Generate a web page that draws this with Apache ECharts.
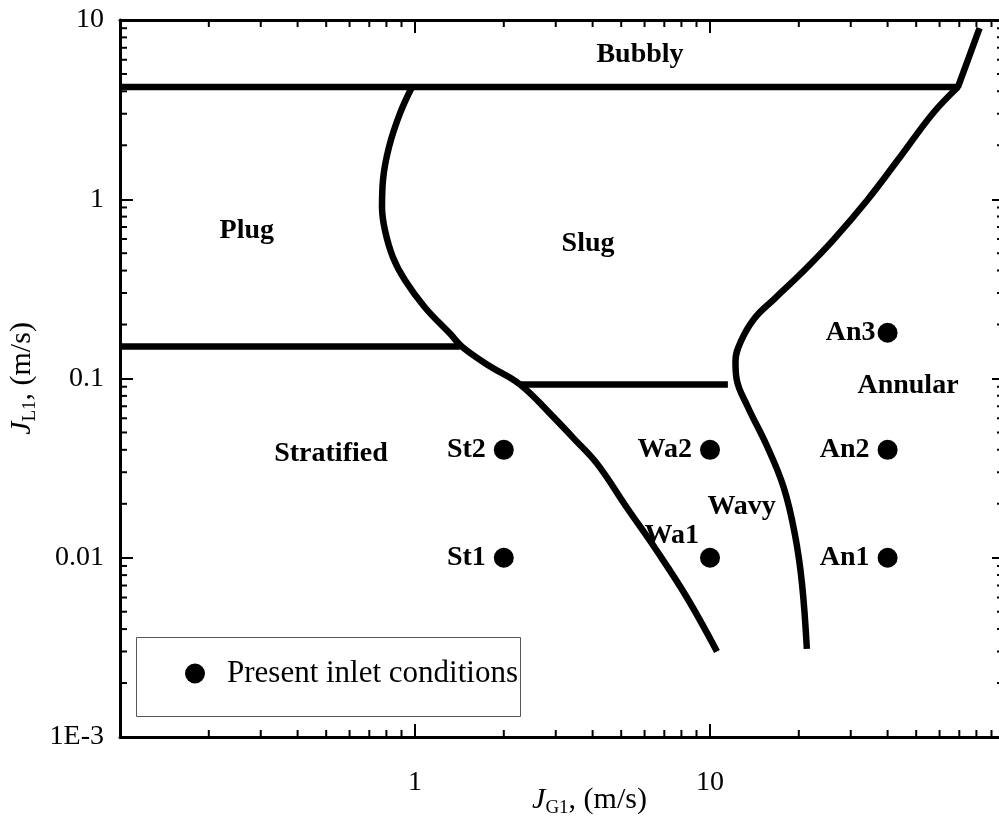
<!DOCTYPE html>
<html>
<head>
<meta charset="utf-8">
<script src="https://cdn.jsdelivr.net/npm/echarts@6/dist/echarts.min.js"></script>
<style>
  html, body { margin: 0; padding: 0; background: #fff; }
  #chart { width: 999px; height: 825px; }
</style>
</head>
<body>
<div id="chart"></div>
<script>
// tick labels
const xTickExp = [-1, 0, 1, 2]
const xTickLabels = ['', '1', '10', '']
const yTickExp = [-3, -2, -1, 0, 1]
const yTickLabels = ['1E-3', '0.01', '0.1', '1', '10']
const xMinorTicks = [0.2, 0.3, 0.4, 0.5, 0.6, 0.7, 0.8, 0.9, 2, 3, 4, 5, 6, 7, 8, 9, 20, 30, 40, 50, 60, 70, 80, 90]
const yMinorTicks = [0.002, 0.003, 0.004, 0.005, 0.006, 0.007, 0.008, 0.009, 0.02, 0.03, 0.04, 0.05, 0.06, 0.07, 0.08, 0.09,
  0.2, 0.3, 0.4, 0.5, 0.6, 0.7, 0.8, 0.9, 2, 3, 4, 5, 6, 7, 8, 9]

// flow pattern boundaries
const bubblyLine = [[0.1, 4.23], [69.3, 4.23], [82, 9.0]]
const plugStratLine = [[0.1, 0.151], [1.42, 0.151]]
const slugWavyLine = [[2.27, 0.0926], [11.5, 0.0926]]
const slugCurve = [
  [0.977, 4.23], [0.89, 3.02], [0.816, 1.95], [0.779, 1.28], [0.773, 0.902], [0.791, 0.671],
  [0.842, 0.474], [0.925, 0.353], [1.081, 0.249], [1.314, 0.178], [1.454, 0.149], [1.795, 0.117],
  [2.27, 0.0926], [2.87, 0.0637], [3.43, 0.0468], [4.14, 0.0335], [5.23, 0.019], [6.61, 0.0109],
  [8.36, 0.00598], [10.56, 0.0030]
]
const annularCurve = [
  [69.3, 4.23], [57.0, 3.02], [44.1, 1.72], [34.1, 0.987], [26.1, 0.59], [20.5, 0.39],
  [16.6, 0.28], [14.1, 0.215], [12.7, 0.16], [12.2, 0.125], [12.3, 0.1], [13.4, 0.07],
  [15.6, 0.042], [17.8, 0.0245], [19.4, 0.0135], [20.5, 0.0072], [21.3, 0.0031]
]

// inlet conditions
const pointNames = ['St1', 'St2', 'Wa1', 'Wa2', 'An1', 'An2', 'An3']
const pointX = [2, 2, 10, 10, 40, 40, 40]
const pointY = [0.01, 0.04, 0.01, 0.04, 0.01, 0.04, 0.18]

// region names
const regionNames = ['Bubbly', 'Plug', 'Slug', 'Stratified', 'Wavy', 'Annular']
const regionX = [5.79, 0.269, 3.86, 0.519, 12.8, 46.9]
const regionY = [6.37, 0.671, 0.568, 0.0381, 0.0193, 0.0914]

const serif = '"Liberation Serif", "DejaVu Serif", serif'
const tickStyle = { stroke: '#000', lineWidth: 2 }

const lineSeries = (data, smooth) => ({
  type: 'line',
  data,
  smooth: smooth ? 0.4 : false,
  showSymbol: false,
  symbol: 'none',
  lineStyle: { color: '#000', width: 6.5 },
  z: 3,
  silent: true
})

const baseAxis = {
  type: 'log',
  logBase: 10,
  axisLine: { show: true, lineStyle: { color: '#000', width: 3 } },
  axisTick: { show: true, inside: true, length: 13, lineStyle: { color: '#000', width: 2 } },
  splitLine: { show: false },
  minorTick: { show: false },
  nameMoveOverlap: false
}

const labelFont = {
  fontFamily: serif,
  fontWeight: 'bold',
  fontSize: 28,
  color: '#000',
  opacity: 1
}

const titleRich = {
  j: { fontFamily: serif, fontStyle: 'italic', fontSize: 30, color: '#000' },
  sub: { fontFamily: serif, fontSize: 19, color: '#000', padding: [16, 0, 0, 0] },
  n: { fontFamily: serif, fontSize: 30, color: '#000' }
}

const chart = echarts.init(document.getElementById('chart'))

chart.setOption({
  animation: false,
  backgroundColor: '#fff',
  grid: { left: 120, right: -6, top: 20, bottom: 88, outerBoundsMode: 'none', containLabel: false },
  xAxis: [
    {
      ...baseAxis,
      position: 'bottom',
      min: 0.1,
      max: 100,
      axisLabel: {
        margin: 32,
        fontFamily: serif,
        fontSize: 28,
        color: '#000',
        formatter: (v) => xTickLabels[xTickExp.indexOf(Math.round(Math.log10(v)))] || ''
      },
      name: '{j|J}{sub|G1}{n|, (m/s)}',
      nameLocation: 'middle',
      nameGap: 46,
      nameTextStyle: { padding: [0, 0, 0, 54], rich: titleRich }
    },
    {
      ...baseAxis,
      position: 'top',
      min: 0.1,
      max: 100,
      axisLabel: { show: false }
    }
  ],
  yAxis: [
    {
      ...baseAxis,
      position: 'left',
      min: 0.001,
      max: 10,
      axisLabel: {
        margin: 16,
        fontFamily: serif,
        fontSize: 28,
        color: '#000',
        formatter: (v) => yTickLabels[yTickExp.indexOf(Math.round(Math.log10(v)))] || ''
      },
      name: '{j|J}{sub|L1}{n|, (m/s)}',
      nameLocation: 'middle',
      nameRotate: 90,
      nameGap: 80,
      nameTextStyle: { rich: titleRich }
    },
    {
      ...baseAxis,
      position: 'right',
      min: 0.001,
      max: 10,
      axisLabel: { show: false }
    }
  ],
  legend: {
    data: ['Present inlet conditions'],
    left: 180,
    top: 653,
    icon: 'circle',
    itemWidth: 20,
    itemHeight: 20,
    selectedMode: false,
    itemStyle: { color: '#000', opacity: 1 },
    textStyle: { fontFamily: serif, fontSize: 31, color: '#000', lineHeight: 30, padding: [0, 0, 0, 17] }
  },
  graphic: [
    {
      type: 'rect',
      left: 134,
      top: 635,
      shape: { width: 384, height: 79 },
      style: { fill: 'none', stroke: '#555', lineWidth: 1 },
      z: 1
    }
  ],
  series: [
    lineSeries(bubblyLine, false),
    lineSeries(plugStratLine, false),
    lineSeries(slugWavyLine, false),
    lineSeries(slugCurve, true),
    lineSeries(annularCurve, true),
    {
      name: 'Present inlet conditions',
      type: 'scatter',
      symbol: 'circle',
      symbolSize: 20,
      itemStyle: { color: '#000', opacity: 1 },
      data: pointNames.map((n, i) => {
        const item = { name: n, value: [pointX[i], pointY[i]] }
        if (n === 'Wa1') item.label = { offset: [7, -22] }
        if (n === 'An3') item.label = { distance: 2 }
        return item
      }),
      label: { show: true, position: 'left', distance: 8, formatter: '{b}', ...labelFont },
      z: 5
    },
    {
      name: 'regions',
      type: 'scatter',
      symbolSize: 1,
      itemStyle: { color: 'rgba(0,0,0,0)', opacity: 1 },
      silent: true,
      data: regionNames.map((n, i) => ({ name: n, value: [regionX[i], regionY[i]] })),
      label: { show: true, position: 'inside', formatter: '{b}', ...labelFont },
      z: 4
    },
    {
      // minor ticks on bottom and top axes
      type: 'custom',
      silent: true,
      data: xMinorTicks.map((v) => [v, 0.001]),
      renderItem: (params, api) => {
        const b = api.coord([api.value(0), 0.001])
        const t = api.coord([api.value(0), 10])
        return {
          type: 'group',
          children: [
            { type: 'line', shape: { x1: b[0], y1: b[1], x2: b[0], y2: b[1] - 7 }, style: tickStyle },
            { type: 'line', shape: { x1: t[0], y1: t[1], x2: t[0], y2: t[1] + 7 }, style: tickStyle }
          ]
        }
      }
    },
    {
      // minor ticks on left and right axes
      type: 'custom',
      silent: true,
      data: yMinorTicks.map((v) => [0.1, v]),
      renderItem: (params, api) => {
        const l = api.coord([0.1, api.value(1)])
        const r = api.coord([100, api.value(1)])
        return {
          type: 'group',
          children: [
            { type: 'line', shape: { x1: l[0], y1: l[1], x2: l[0] + 7, y2: l[1] }, style: tickStyle },
            { type: 'line', shape: { x1: r[0], y1: r[1], x2: r[0] - 8, y2: r[1] }, style: tickStyle }
          ]
        }
      }
    }
  ]
})
</script>
</body>
</html>
